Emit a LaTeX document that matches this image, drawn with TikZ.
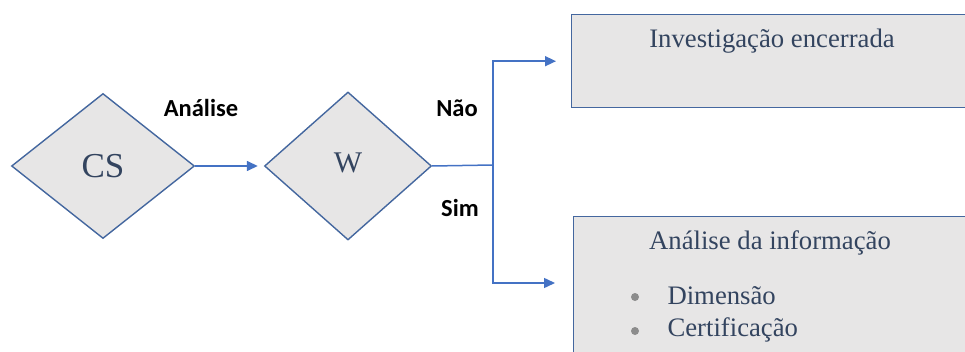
\documentclass[tikz,border=0pt]{standalone}
\usepackage{fontspec}
\setmainfont{Liberation Serif}
\newfontfamily\labelfont{Carlito}
\usetikzlibrary{arrows.meta,positioning,shapes.geometric}
\definecolor{boxgray}{HTML}{E7E6E6}
\definecolor{edgeblue}{HTML}{44679F}
\definecolor{linkblue}{HTML}{4472C4}
\definecolor{inkblue}{HTML}{33445F}

\begin{document}
\begin{tikzpicture}[x=1pt, y=-1pt,
  decision/.style={diamond, draw=edgeblue, line width=1.4pt, fill=boxgray,
    inner sep=0pt, text=inkblue},
  panel/.style={draw=edgeblue, line width=1.4pt, fill=boxgray, anchor=north west,
    minimum width=420},
  title/.style={font=\fontsize{26.7}{30}\selectfont, text=inkblue},
  item/.style={font=\fontsize{26.7}{30}\selectfont, text=inkblue, anchor=west},
  dot/.style={circle, fill=gray!90, inner sep=0pt, minimum size=8pt},
  tag/.style={font=\labelfont\bfseries\fontsize{24.5}{28}\selectfont},
  link/.style={-{Triangle[length=11pt,width=10pt]}, line width=1.5pt, draw=linkblue},
  wire/.style={line width=1.5pt, draw=linkblue}
]
  \useasboundingbox (0,0) rectangle (965,352);

  % decisions
  \node[decision, minimum width=183, minimum height=145,
    font=\fontsize{35}{35}\selectfont] (cs) at (103,166) {CS};
  \node[decision, minimum width=167, minimum height=148,
    font=\fontsize{30}{30}\selectfont] (w) at (348,166) {\raisebox{6pt}{W}};

  % outcome boxes
  \node[panel, minimum height=93] (closed) at (571,14) {};
  \node[panel, minimum height=160] (info) at (573,216) {};
  \coordinate (infoin) at (573,283);

  \node[title] (closedtitle) at (772,41) {Investigação encerrada};
  \node[title] (infotitle) at (770,243) {Análise da informação};
  \node[dot] (dot1) at (635,297) {};
  \node[dot] (dot2) at (635,331) {};
  \node[item] (dim) at (664,296) {Dimensão};
  \node[item] (cert) at (664,330) {Certificação};

  % connectors
  \coordinate (fork) at (493,165);
  \draw[link, shorten >=6pt] (cs.east) -- (w.west);
  \draw[wire] (w.east) -- (fork);
  \draw[link, shorten >=15pt] (fork) |- (closed.west);
  \draw[link, shorten >=18pt] (fork) |- (infoin);

  \node[tag] (analise) at (201,108) {Análise};
  \node[tag] (nao) at (457,108) {Não};
  \node[tag] (sim) at (460,208) {Sim};
\end{tikzpicture}
\end{document}
